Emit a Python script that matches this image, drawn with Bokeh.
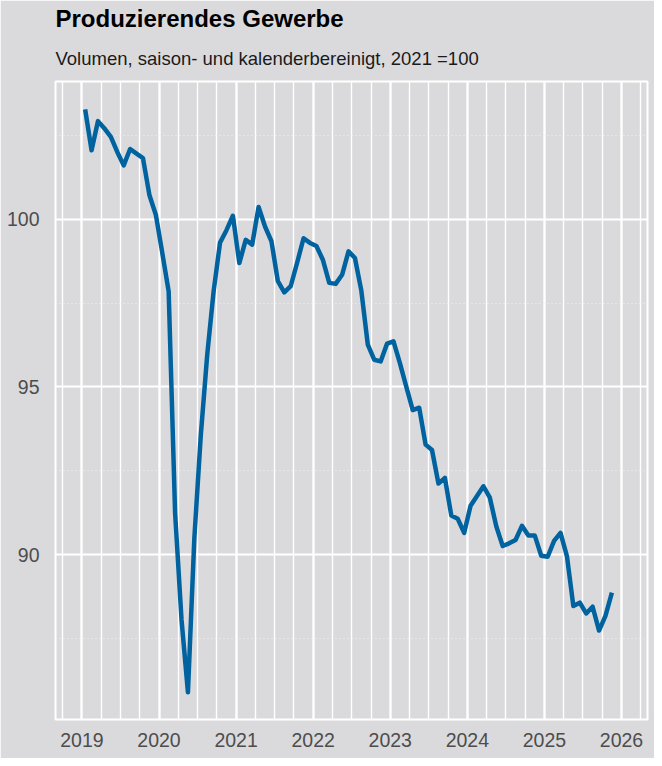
from bokeh.plotting import figure
from bokeh.models import Title, FixedTicker, Range1d, ColumnDataSource
from bokeh.embed import file_html
from bokeh.resources import INLINE

# ---- data (monthly, Jan 2019 - Nov 2025), index 2021 = 100 ----
start_year = 2019
v2019 = [103.27, 102.05, 102.92, 102.70, 102.45, 102.00, 101.60, 102.09, 101.95, 101.82, 100.72, 100.13]
v2020 = [99.00, 97.85, 91.25, 88.07, 85.90, 90.50, 93.55, 95.95, 97.85, 99.30, 99.67, 100.10]
v2021 = [98.69, 99.38, 99.24, 100.36, 99.78, 99.34, 98.15, 97.82, 98.00, 98.70, 99.43, 99.29]
v2022 = [99.20, 98.79, 98.10, 98.07, 98.34, 99.04, 98.84, 97.86, 96.26, 95.81, 95.76, 96.29]
v2023 = [96.36, 95.71, 95.00, 94.31, 94.38, 93.28, 93.12, 92.12, 92.29, 91.17, 91.07, 90.65]
v2024 = [91.46, 91.75, 92.04, 91.70, 90.85, 90.26, 90.34, 90.44, 90.86, 90.57, 90.57, 89.97]
v2025 = [89.94, 90.41, 90.65, 89.96, 88.47, 88.57, 88.25, 88.45, 87.74, 88.18, 88.87]

year_ticks = [2019, 2020, 2021, 2022, 2023, 2024, 2025, 2026]
y_ticks = [90, 95, 100]
y_minor = [87.5, 92.5, 97.5, 102.5]

title_text = "Produzierendes Gewerbe"
subtitle_text = "Volumen, saison- und kalenderbereinigt, 2021 =100"

values = v2019 + v2020 + v2021 + v2022 + v2023 + v2024 + v2025
# mid-month positions in decimal years
xs = [start_year + (i + 0.5) / 12 for i in range(len(values))]
quarters = [y + q / 4 for y in range(2018, 2027) for q in range(4)]

src = ColumnDataSource(dict(x=xs, y=values))

BG = "#dadadd"
FONT = "Liberation Sans"

p = figure(width=654, height=758, output_backend="svg", toolbar_location=None,
           x_range=Range1d(2018.657, 2026.337), y_range=Range1d(85.09, 104.1),
           min_border_left=55, min_border_right=7, min_border_bottom=39, min_border_top=80)
p.title = None
p.background_fill_color = BG
p.border_fill_color = BG
p.outline_line_color = "white"
p.outline_line_width = 2

p.line("x", "y", source=src, line_color="#00639f", line_width=4.5, line_join="round")

# axes
p.xaxis.ticker = FixedTicker(ticks=year_ticks, minor_ticks=quarters)
p.yaxis.ticker = FixedTicker(ticks=y_ticks, minor_ticks=y_minor)
for ax in (p.xaxis[0], p.yaxis[0]):
    ax.axis_line_color = None
    ax.major_tick_line_color = None
    ax.minor_tick_line_color = None
    ax.major_tick_out = 0
    ax.major_tick_in = 0
    ax.major_label_text_font = FONT
    ax.major_label_text_font_size = "19.5px"
    ax.major_label_text_color = "#4d4d4d"
p.xaxis.major_label_standoff = 9
p.yaxis.major_label_standoff = 12

# grid
p.xgrid.grid_line_color = "white"
p.xgrid.grid_line_width = 2.2
p.xgrid.minor_grid_line_color = "white"
p.xgrid.minor_grid_line_width = 1.4
p.ygrid.grid_line_color = "white"
p.ygrid.grid_line_width = 2
p.ygrid.minor_grid_line_color = "#f2f2f2"
p.ygrid.minor_grid_line_width = 1
p.ygrid.minor_grid_line_dash = "1 3"

# titles
p.add_layout(Title(text=subtitle_text, text_font=FONT, text_font_size="18.5px",
                   text_font_style="normal", text_color="#1a1a1a", align="left",
                   standoff=25), "above")
p.add_layout(Title(text=title_text, text_font=FONT, text_font_size="24px",
                   text_font_style="bold", text_color="black", align="left",
                   standoff=4), "above")

open("out.html", "w").write(file_html(p, INLINE))
